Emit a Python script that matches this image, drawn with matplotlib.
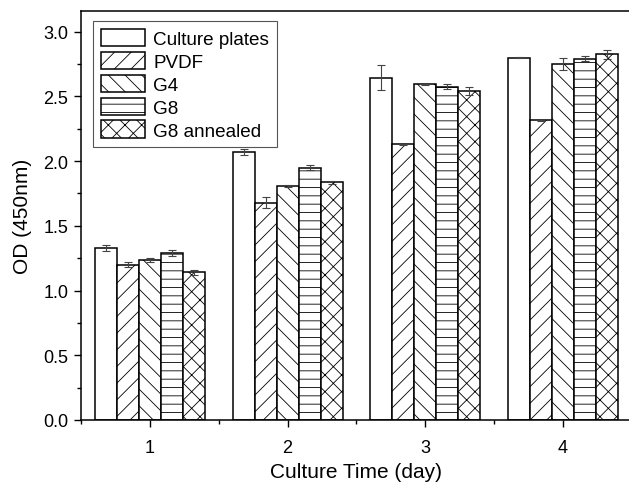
import numpy as np
import matplotlib
matplotlib.use("Agg")
import matplotlib.pyplot as plt
from matplotlib.ticker import MultipleLocator

plt.rcParams['font.family'] = ['Liberation Sans', 'DejaVu Sans']
plt.rcParams['hatch.linewidth'] = 0.6
plt.rcParams['hatch.color'] = '#333333'

days = [1, 2, 3, 4]
series = ["Culture plates", "PVDF", "G4", "G8", "G8 annealed"]
hatches = ["", "//", "\\\\", "--", "xx"]

values = [
    [1.33, 2.07, 2.645, 2.80],   # Culture plates
    [1.20, 1.68, 2.13, 2.315],   # PVDF
    [1.235, 1.81, 2.593, 2.75],  # G4
    [1.29, 1.95, 2.575, 2.79],   # G8
    [1.142, 1.835, 2.544, 2.825] # G8 annealed
]
errors = [
    [0.025, 0.02, 0.094, 0.004],
    [0.02, 0.045, 0.004, 0.006],
    [0.015, 0.008, 0.005, 0.045],
    [0.025, 0.02, 0.02, 0.02],
    [0.02, 0.01, 0.03, 0.035],
]

fig = plt.figure(figsize=(6.29, 4.85), dpi=100)
ax = fig.add_axes([81 / 629, 64 / 485, 551 / 629, 409 / 485])

width = 0.16
x = np.array(days, dtype=float)
for i, name in enumerate(series):
    pos = x + (i - 2) * width
    ax.bar(pos, values[i], width, color='white', edgecolor='black',
           linewidth=1.1, hatch=hatches[i], label=name, zorder=2)
    ax.errorbar(pos, values[i], yerr=errors[i], fmt='none', ecolor='#444444',
                elinewidth=0.8, capsize=3, capthick=0.8, zorder=3)

ax.set_xlim(0.5, 4.5)
ax.set_ylim(0, 3.16)
ax.set_xticks(days)
ax.xaxis.set_minor_locator(MultipleLocator(0.5))
ax.yaxis.set_major_locator(MultipleLocator(0.5))
ax.yaxis.set_minor_locator(MultipleLocator(0.25))
ax.yaxis.set_major_formatter(matplotlib.ticker.FormatStrFormatter('%.1f'))
ax.tick_params(which='major', direction='out', length=5, width=1, labelsize=13)
ax.tick_params(which='minor', direction='out', length=3, width=1)
ax.tick_params(axis='x', pad=9)
ax.tick_params(axis='y', pad=4)
for s in ax.spines.values():
    s.set_linewidth(1.1)

ax.set_xlabel("Culture Time (day)", fontsize=15, labelpad=4)
ax.set_ylabel("OD (450nm)", fontsize=15, labelpad=8)

leg = ax.legend(loc='upper left', bbox_to_anchor=(12 / 551, 1 - 10 / 409),
                borderaxespad=0, fontsize=13.6, fancybox=False, framealpha=1,
                edgecolor='#555555', handlelength=2.35, handleheight=1.05,
                labelspacing=0.2, handletextpad=0.45, borderpad=0.4)
leg.get_frame().set_linewidth(0.8)

fig.savefig("out.png", dpi=100)
